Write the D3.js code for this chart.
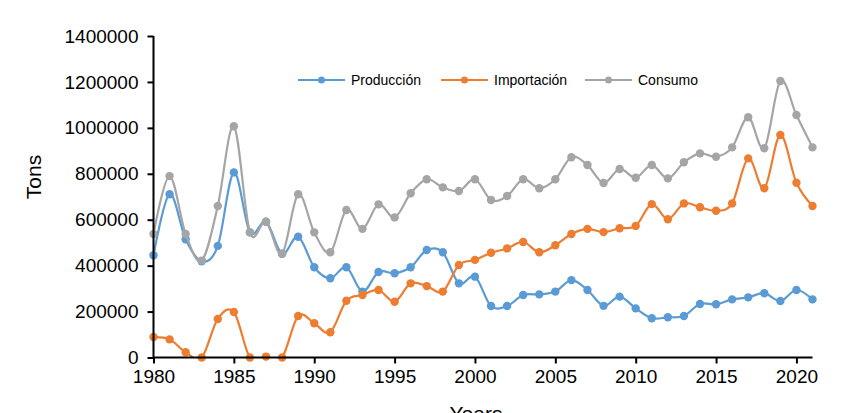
<!DOCTYPE html>
<html>
<head>
<meta charset="utf-8">
<script src="https://cdn.jsdelivr.net/npm/d3@7"></script>
<style>
  html, body { margin: 0; padding: 0; background: #fff; }
  svg { display: block; }
  text { font-family: "Liberation Sans", Arial, sans-serif; fill: #000; }
</style>
</head>
<body>
<svg id="chart" width="843" height="413"></svg>
<script>
const years = d3.range(1980, 2022);
const produccion = [445000, 711000, 515000, 419000, 486000, 806000, 545000, 591000, 452000, 526000,
  393000, 345000, 393000, 287000, 372000, 367000, 393000, 468000, 458000, 323000,
  352000, 224000, 224000, 272000, 275000, 287000, 337000, 294000, 225000, 265000,
  214000, 171000, 175000, 181000, 233000, 232000, 253000, 262000, 280000, 246000,
  294000, 253000];
const importacion = [89000, 79000, 23000, 0, 168000, 198000, 0, 4000, 0, 181000,
  149000, 110000, 247000, 272000, 294000, 243000, 323000, 311000, 287000, 403000,
  425000, 456000, 475000, 503000, 458000, 489000, 538000, 560000, 546000, 563000,
  573000, 668000, 602000, 671000, 654000, 639000, 671000, 867000, 737000, 969000,
  761000, 660000];
const consumo = [538000, 790000, 538000, 422000, 660000, 1007000, 545000, 591000, 452000, 711000,
  545000, 458000, 642000, 560000, 667000, 610000, 715000, 776000, 741000, 725000,
  776000, 686000, 703000, 776000, 737000, 776000, 872000, 838000, 760000, 821000,
  783000, 838000, 780000, 850000, 889000, 874000, 915000, 1046000, 911000, 1204000,
  1056000, 915000];
const seriesNames = ["Producción", "Importación", "Consumo"];
const seriesColors = ["#5B9BD5", "#ED7D31", "#A5A5A5"];
const yTicks = [0, 200000, 400000, 600000, 800000, 1000000, 1200000, 1400000];
const xTicks = [1980, 1985, 1990, 1995, 2000, 2005, 2010, 2015, 2020];

const svg = d3.select("#chart");
const pL = 153.5, pR = 812.5, pT = 36, pB = 357.5;

const x = d3.scaleLinear().domain([1980, 2021]).range([pL, pR]);
const y = d3.scaleLinear().domain([0, 1400000]).range([pB, pT]);

svg.append("defs").append("clipPath").attr("id", "plotclip")
  .append("rect").attr("x", pL - 10).attr("y", pT - 20)
  .attr("width", pR - pL + 20).attr("height", pB - pT + 20);

const allSeries = [produccion, importacion, consumo];
const line = d3.line().x((d, i) => x(years[i])).y(d => y(d)).curve(d3.curveCardinal.tension(0));

allSeries.forEach((vals, si) => {
  const g = svg.append("g");
  g.append("path").datum(vals)
    .attr("d", line)
    .attr("fill", "none")
    .attr("clip-path", "url(#plotclip)")
    .attr("stroke", seriesColors[si])
    .attr("stroke-width", 2.2);
  g.selectAll("circle").data(vals).join("circle")
    .attr("cx", (d, i) => x(years[i]))
    .attr("cy", d => y(d))
    .attr("r", 4.2)
    .attr("fill", seriesColors[si]);
});

// axes
const yAxis = d3.axisLeft(y).tickValues(yTicks).tickSize(6).tickPadding(9).tickFormat(d3.format("d"));
const gy = svg.append("g").attr("transform", `translate(${pL},0)`).call(yAxis);
gy.select(".domain").attr("stroke", "#000").attr("stroke-width", 2).attr("d", `M0,${pT}V${pB}`);
gy.selectAll(".tick line").attr("stroke", "#000").attr("stroke-width", 2);
gy.selectAll("text").attr("font-size", 19).attr("font-family", "Liberation Sans, Arial, sans-serif");

const xAxis = d3.axisBottom(x).tickValues(xTicks).tickSize(6).tickPadding(6).tickFormat(d3.format("d"));
const gx = svg.append("g").attr("transform", `translate(0,${pB})`).call(xAxis);
gx.select(".domain").attr("stroke", "#000").attr("stroke-width", 2).attr("d", `M${pL},0H${pR}`);
gx.selectAll(".tick line").attr("stroke", "#000").attr("stroke-width", 2);
gx.selectAll("text").attr("font-size", 19).attr("font-family", "Liberation Sans, Arial, sans-serif");

// axis titles
svg.append("text")
  .attr("transform", "translate(41,177) rotate(-90)")
  .attr("text-anchor", "middle")
  .attr("font-size", 21)
  .text("Tons");
svg.append("text")
  .attr("x", 476).attr("y", 421)
  .attr("text-anchor", "middle")
  .attr("font-size", 21)
  .text("Years");

// legend
const legendX = [298, 441, 585];
seriesNames.forEach((name, i) => {
  const g = svg.append("g").attr("transform", `translate(${legendX[i]},80)`);
  g.append("line").attr("x1", 0).attr("x2", 47).attr("y1", 0).attr("y2", 0)
    .attr("stroke", seriesColors[i]).attr("stroke-width", 2.2);
  g.append("circle").attr("cx", 23.5).attr("cy", 0).attr("r", 3.5).attr("fill", seriesColors[i]);
  g.append("text").attr("x", 53).attr("y", 0).attr("dy", "0.35em")
    .attr("font-size", 14).text(name);
});
</script>
</body>
</html>
